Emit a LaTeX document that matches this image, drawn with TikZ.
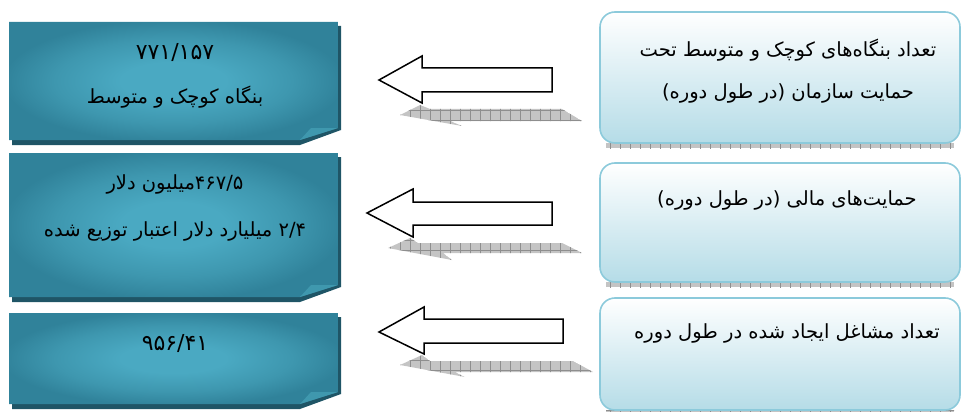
\documentclass[tikz,border=0pt]{standalone}
\usepackage{fontspec}
\newfontfamily\fa[Script=Arabic]{DejaVu Sans}
\TeXXeTstate=1
\definecolor{tealC}{HTML}{4AA9C2}
\definecolor{tealM}{HTML}{3E97AF}
\definecolor{tealE}{HTML}{30829A}
\definecolor{tealD}{HTML}{1F5566}
\definecolor{tealF}{HTML}{3F98AE}
\definecolor{rbord}{HTML}{8CCADB}
\definecolor{rbot}{HTML}{B5DCE7}
\definecolor{shd}{HTML}{C4C4C4}
\definecolor{shdl}{HTML}{8E8E8E}
\pgfdeclareradialshading{tealrad}{\pgfpoint{0bp}{0bp}}{color(0bp)=(tealC); color(8bp)=(tealC); color(18bp)=(tealM); color(26bp)=(tealE); color(50bp)=(tealE)}
\tikzset{
  txt/.style={font=\fa\fontsize{19.5}{22}\selectfont, text=black, inner sep=0pt},
  num/.style={font=\fa\fontsize{22}{24}\selectfont, text=black, inner sep=0pt},
  arrowshape/.style={fill=white, draw=black, line width=1.5pt, line join=miter},
  rbox/.style={top color=white, bottom color=rbot, draw=rbord, line width=1.6pt, rounded corners=15pt},
}
\newcommand{\lbx}[2]{%
  \fill[tealD] (12,#1+4) -- (341,#1+4) -- (341,#2-10) -- (300,#2+5) -- (12,#2+5) -- cycle;
  \shade[shading=tealrad] (9,#1) -- (338,#1) -- (338,#2-12) -- (300,#2) -- (9,#2) -- cycle;
  \fill[tealF] (300,#2) -- (311,#2-12) -- (338,#2-12) -- cycle;
}
\newcommand{\rbx}[2]{%
  \begin{scope}
    \clip (606,#2) rectangle (954,#2+5);
    \fill[shd] (606,#2) rectangle (954,#2+5);
    \draw[shdl, line width=0.4pt, step=10pt] (600,#2-20) grid (960,#2+20);
  \end{scope}
  \shade[rbox] (600,#1) rectangle (960,#2);
}
\newcommand{\shadowpoly}[1]{%
  \begin{scope}
    \clip #1;
    \fill[shd] #1;
    \draw[shdl, line width=0.4pt, step=10pt] (370,90) grid (610,400);
  \end{scope}
}
\begin{document}
\begin{tikzpicture}[x=1pt, y=-1pt]
\useasboundingbox (0,0) rectangle (962,412);
% left boxes
\lbx{22}{140}
\lbx{153}{297}
\lbx{313}{404}
% right boxes
\rbx{12}{143}
\rbx{163}{282}
\rbx{298}{410}
% arrow shadows
\shadowpoly{(400,115) -- (420,105) -- (430,109) -- (562,109) -- (582,121) -- (450,121) -- (462,126) -- cycle}
\shadowpoly{(388,248) -- (410,238) -- (418,243) -- (562,243) -- (582,253) -- (443,253) -- (452,260) -- cycle}
\shadowpoly{(400,365) -- (422,355) -- (430,361) -- (573,361) -- (593,372) -- (455,372) -- (465,377) -- cycle}
% arrows
\draw[arrowshape] (379,80) -- (422,56) -- (422,68) -- (552,68) -- (552,92) -- (422,92) -- (422,103) -- cycle;
\draw[arrowshape] (367,213) -- (413,189) -- (413,202) -- (552,202) -- (552,225) -- (413,225) -- (413,237) -- cycle;
\draw[arrowshape] (379,332) -- (424,307) -- (424,319) -- (563,319) -- (563,343) -- (424,343) -- (424,354) -- cycle;
% left texts
\node[num] (l1a) at (175,53) {\beginL ۷۷۱/۱۵۷\endL};
\node[txt] (l1b) at (175,97) {\beginR بنگاه کوچک و متوسط\endR};
\node[txt] (l2a) at (175,184) {\beginR\beginL ۴۶۷/۵\endL میلیون دلار\endR};
\node[txt] (l2b) at (175,231) {\beginR\beginL ۲/۴\endL{} میلیارد دلار اعتبار توزیع شده\endR};
\node[num] (l3a) at (175,343) {\beginL ۹۵۶/۴۱\endL};
% right texts
\node[txt] (r1a) at (788,50) {\beginR تعداد بنگاه‌های کوچک و متوسط تحت\endR};
\node[txt] (r1b) at (788,93) {\beginR حمایت سازمان (در طول دوره)\endR};
\node[txt] (r2a) at (787,200) {\beginR حمایت‌های مالی (در طول دوره)\endR};
\node[txt] (r3a) at (787,333) {\beginR تعداد مشاغل ایجاد شده در طول دوره\endR};
\end{tikzpicture}
\end{document}
